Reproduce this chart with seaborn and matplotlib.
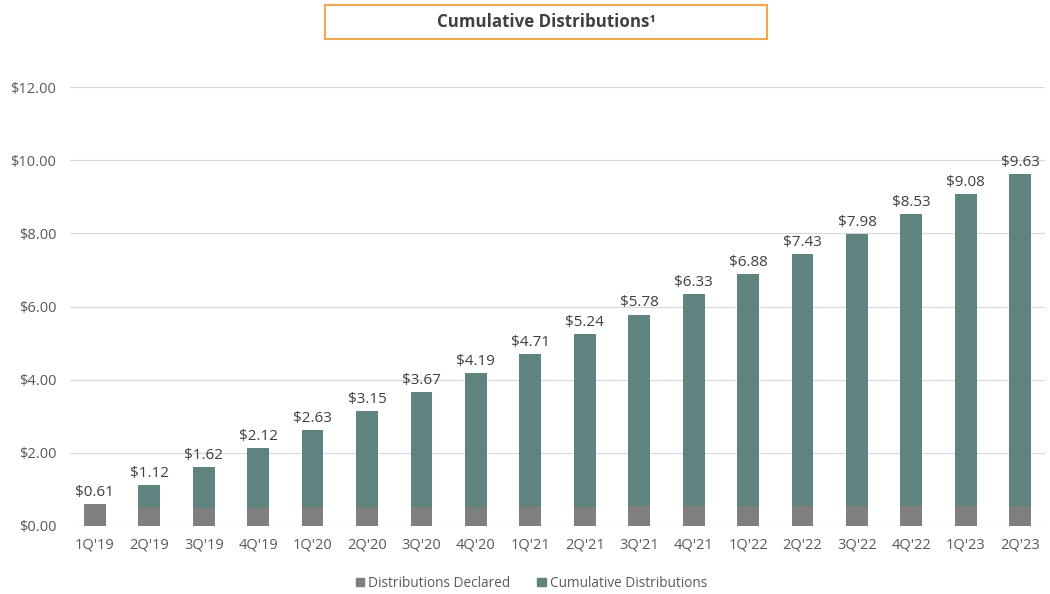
import matplotlib
matplotlib.use("Agg")
import matplotlib.pyplot as plt
import matplotlib.patches as mpatches
import pandas as pd
import seaborn as sns

quarters = ["1Q'19", "2Q'19", "3Q'19", "4Q'19", "1Q'20", "2Q'20", "3Q'20", "4Q'20",
            "1Q'21", "2Q'21", "3Q'21", "4Q'21", "1Q'22", "2Q'22", "3Q'22", "4Q'22",
            "1Q'23", "2Q'23"]
cumulative = [0.61, 1.12, 1.62, 2.12, 2.63, 3.15, 3.67, 4.19, 4.71, 5.24, 5.78,
              6.33, 6.88, 7.43, 7.98, 8.53, 9.08, 9.63]
declared = [0.61, 0.51, 0.50, 0.50, 0.51, 0.52, 0.52, 0.52, 0.52, 0.53, 0.54,
            0.55, 0.55, 0.55, 0.55, 0.55, 0.55, 0.55]

teal = "#5f837f"
gray = "#7f7f7f"
txt = "#595959"

sns.set_style("white")
plt.rcParams["font.family"] = ["Open Sans", "DejaVu Sans"]

df = pd.DataFrame({"quarter": quarters, "cumulative": cumulative, "declared": declared})

fig = plt.figure(figsize=(10.5, 5.94), dpi=100)
ax = fig.add_axes([0.067, 0.1145, 0.928, 0.739])

# full cumulative bar in teal, the quarter's declared part drawn over it in gray
sns.barplot(data=df, x="quarter", y="cumulative", color=teal, width=0.4,
            saturation=1, linewidth=0, ax=ax)
sns.barplot(data=df, x="quarter", y="declared", color=gray, width=0.4,
            saturation=1, linewidth=0, ax=ax)

ax.bar_label(ax.containers[0], labels=["${:.2f}".format(v) for v in cumulative],
             padding=3, fontsize=11, color="#404040")

ax.set_ylim(0, 12)
ax.set_yticks([0, 2, 4, 6, 8, 10, 12])
ax.set_yticklabels(["${:.2f}".format(v) for v in [0, 2, 4, 6, 8, 10, 12]])
ax.set_xlim(-0.45, 17.45)
ax.tick_params(axis="both", labelsize=10.5, colors=txt, length=0)
ax.tick_params(axis="x", pad=8)
ax.tick_params(axis="y", pad=10)
ax.set_xlabel("")
ax.set_ylabel("")
ax.grid(axis="y", color="#d9d9d9", linewidth=0.9)
ax.set_axisbelow(True)
for s in ax.spines.values():
    s.set_visible(False)

handles = [mpatches.Patch(color=gray, label="Distributions Declared"),
           mpatches.Patch(color=teal, label="Cumulative Distributions")]
leg = fig.legend(handles=handles, loc="center", bbox_to_anchor=(0.506, 0.018),
                 ncol=2, frameon=False, fontsize=9.8, handlelength=0.6,
                 handleheight=0.6, handletextpad=0.3, columnspacing=2.0)
for t in leg.get_texts():
    t.set_color(txt)

# boxed title
box = mpatches.Rectangle((0.3095, 0.9343), 0.421, 0.0573, transform=fig.transFigure,
                         facecolor="white", edgecolor="#f0a850", linewidth=1.5)
fig.patches.append(box)
fig.text(0.52, 0.963, "Cumulative Distributions\u00b9", ha="center", va="center",
         fontsize=12.2, fontweight="bold", color="#404040")

fig.savefig("out.png", dpi=100)
